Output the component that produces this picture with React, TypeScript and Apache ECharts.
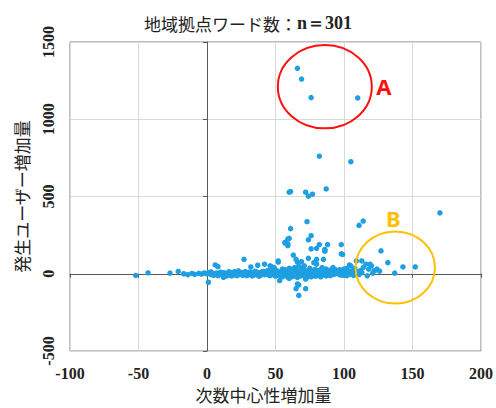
import React, { useEffect, useRef } from 'react';
import * as echarts from 'echarts';

const titleMain = '地域拠点ワード数：';
const titleN = 'n＝301';
const xAxisName = '次数中心性増加量';
const yAxisName = '発生ユーザー増加量';

const xMin = -100;
const xMax = 200;
const xStep = 50;
const yMin = -500;
const yMax = 1500;
const yStep = 500;

// high outliers
const upperPoints: number[][] = [
  [66, 1330], [69, 1260], [76, 1140], [110, 1138], [82, 761], [105, 725],
  [60, 528], [61, 532], [72, 528], [74, 502], [77, 515], [87, 549],
  [73, 337], [61, 292], [60, 229], [59, 224], [76, 246], [74, 220],
  [57, 203], [59, 193], [57, 199], [59, 182], [111, 313], [114, 341],
  [82, 189], [88, 189], [98, 189], [170, 394], [76, 161], [80, 165], [86, 150],
];

// dense band near zero
const bandPoints: number[][] = [
  [-52, -11], [-43, 6], [-27, 4], [-21, 15], [-17, 0], [-14, -6], [-11, 2], [-9, -4], [-6, 3], [-4, -2],
  [-2, 5], [0, -1], [1, -55], [2, 3], [3, -6], [4, 2], [5, -3], [6, 57], [8, 46], [7, 5],
  [9, -2], [10, 1], [11, -8], [12, -23], [13, 4], [14, -4], [15, 2], [16, 13], [17, -5], [18, 6],
  [19, -2], [20, 13], [21, -9], [22, 3], [23, 19], [24, -4], [25, 1], [26, 8], [27, 93], [27, -6],
  [28, 2], [29, -12], [30, 5], [31, -3], [32, 44], [32, 10], [33, -1], [34, -8], [35, 4], [36, 12],
  [37, 55], [37, -4], [38, 6], [39, -10], [40, 2], [41, 15], [42, 62], [42, -6], [43, 8], [44, -2],
  [45, 18], [46, 51], [46, -12], [47, 46], [47, 4], [48, -5], [49, 40], [49, 10], [50, -15], [51, 20],
  [52, 76], [52, 83], [52, 2], [53, -44], [53, -8], [54, 14], [55, 30], [55, -20], [56, 5], [57, 25],
  [57, -4], [58, -12], [59, 10], [60, 35], [60, -30], [61, 30], [61, 3], [62, 18], [62, -10], [63, 121],
  [63, -5], [64, 40], [64, 8], [65, 30], [65, -97], [65, 93], [66, -66], [66, 76], [66, 12], [67, -140],
  [67, -72], [67, 50], [68, -15], [68, 4], [69, 78], [69, 25], [70, 40], [70, -8], [71, 51], [71, 15],
  [72, -34], [72, -97], [72, 2], [73, 20], [74, 100], [74, -10], [75, 35], [75, 5], [76, -20], [77, 12],
  [78, 72], [78, -4], [79, 28], [80, 93], [80, 62], [80, 8], [81, -12], [82, 22], [83, 3], [84, 40],
  [85, 93], [85, -6], [86, 146], [86, 157], [86, 15], [87, 30], [88, -2], [89, 20], [90, 8], [91, 30],
  [92, 40], [92, -5], [93, 14], [94, 25], [95, 2], [96, 18], [97, -8], [98, 129], [99, 125], [98, 10],
  [100, 22], [101, 4], [102, 34], [103, -6], [104, 57], [104, 15], [105, 51], [106, 8], [107, 25], [108, 34],
  [109, 83], [110, 12], [111, -5], [112, 20], [113, 83], [113, 8], [114, 40], [116, 62], [117, -13], [118, 30],
  [119, 62], [120, 51], [121, 4], [122, 20], [124, 25], [126, 17], [127, 148], [132, 72], [137, 4], [143, 44],
  [152, 44], [124, 30],
  [1, 8], [3, 12], [5, -10], [8, -12], [10, 10], [12, 7], [14, -15], [16, -8], [18, -14], [20, -3],
  [22, -12], [24, 8], [26, -10], [28, 14], [30, -8], [31, 10], [33, -14], [35, 16], [36, -6], [38, -16],
  [40, 12], [42, 4], [44, 20], [45, -8], [48, 22], [50, 6], [51, -10], [54, -16], [56, 20], [58, 4],
  [59, -22], [60, 12], [62, -18], [63, 24], [64, -14], [66, -24], [68, 14], [70, 22], [71, -16], [73, -22],
  [74, 14], [76, 24], [77, -8], [79, -16], [81, 16], [83, -20], [84, 10], [87, -14], [89, 4], [90, -12],
  [93, -2], [95, 16], [97, 26], [99, -10], [100, 30], [102, -12], [105, -4], [107, -10],
];

// annotation ellipses in data units: [cx, cy, rx, ry]
const ellipseA = [86, 1211, 34.3, 270];
const ellipseB = [137.4, 40, 29, 233];
const labelA = 'A';
const labelB = 'B';

const serif = '"Liberation Serif", "Times New Roman", serif';
const cjk = '"Noto Sans CJK JP", "Noto Sans", sans-serif';

export default function App() {
  const ref = useRef<HTMLDivElement>(null);
  useEffect(() => {
    if (!ref.current) return;
    const chart = echarts.init(ref.current, null, { renderer: 'svg' });
    const option: any = {
      animation: false,
      backgroundColor: '#ffffff',
      title: {
        text: '{a|' + titleMain + '}{b|' + titleN + '}',
        left: 'center',
        top: 9,
        textStyle: {
          rich: {
            a: { fontFamily: cjk, fontSize: 17, color: '#222', fontWeight: 'normal' },
            b: { fontFamily: serif, fontSize: 18, color: '#222', fontWeight: 'bold' },
          },
        },
      },
      grid: {
        left: 70, right: 15, top: 42, bottom: 51,
        show: true, borderColor: '#808080', borderWidth: 1, backgroundColor: 'transparent',
      },
      xAxis: [
        {
          type: 'value', min: xMin, max: xMax, interval: xStep,
          axisLine: { show: false, onZero: false },
          axisTick: { show: false },
          splitLine: { show: true, lineStyle: { color: '#d9d9d9', width: 1 } },
          axisLabel: { fontFamily: serif, fontWeight: 'bold', fontSize: 16, color: '#222', margin: 14, formatter: (v: number) => String(v) },
          name: xAxisName,
          nameLocation: 'middle',
          nameGap: 35,
          nameTextStyle: { fontFamily: cjk, fontSize: 17, color: '#222', padding: [0, 24, 0, 0] },
        },
        {
          type: 'value', min: xMin, max: xMax, interval: xStep, position: 'bottom',
          axisLine: { show: true, onZero: true, lineStyle: { color: '#595959', width: 1 } },
          axisTick: { show: true, length: 4, lineStyle: { color: '#595959' } },
          splitLine: { show: false },
          axisLabel: { show: false },
        },
      ],
      yAxis: [
        {
          type: 'value', min: yMin, max: yMax, interval: yStep,
          axisLine: { show: false, onZero: false },
          axisTick: { show: false },
          splitLine: { show: true, lineStyle: { color: '#d9d9d9', width: 1 } },
          axisLabel: { fontFamily: serif, fontWeight: 'bold', fontSize: 16, color: '#222', rotate: 90, margin: 14, formatter: (v: number) => String(v) },
          name: yAxisName,
          nameLocation: 'middle',
          nameGap: 40,
          nameRotate: 90,
          nameTextStyle: { fontFamily: cjk, fontSize: 17, color: '#222' },
        },
        {
          type: 'value', min: yMin, max: yMax, interval: yStep, position: 'left',
          axisLine: { show: true, onZero: true, lineStyle: { color: '#595959', width: 1 } },
          axisTick: { show: true, length: 4, lineStyle: { color: '#595959' } },
          splitLine: { show: false },
          axisLabel: { show: false },
        },
      ],
      series: [
        {
          type: 'scatter',
          xAxisIndex: 0, yAxisIndex: 0,
          symbolSize: 5.5,
          itemStyle: { color: '#1e9fe2', opacity: 1 },
          data: [...bandPoints, ...upperPoints],
        },
      ],
    };
    chart.setOption(option);

    const mk = (e: number[], color: string, label: string, lx: number, ly: number) => {
      const c = chart.convertToPixel({ gridIndex: 0 }, [e[0], e[1]]) as number[];
      const p = chart.convertToPixel({ gridIndex: 0 }, [e[0] + e[2], e[1] - e[3]]) as number[];
      const rx = Math.abs(p[0] - c[0]);
      const ry = Math.abs(p[1] - c[1]);
      return [
        { type: 'ellipse', shape: { cx: c[0], cy: c[1], rx, ry }, style: { fill: 'none', stroke: color, lineWidth: 2 }, z: 10 },
        {
          type: 'text', x: c[0] + lx, y: c[1] + ly,
          style: { text: label, fill: color, fontSize: 22, fontWeight: 'bold', fontFamily: '"Noto Sans", sans-serif', align: 'center', verticalAlign: 'middle' },
          z: 10,
        },
      ];
    };
    chart.setOption({
      graphic: [
        ...mk(ellipseA, '#ff1010', labelA, 59, -1),
        ...mk(ellipseB, '#ffc000', labelB, -2, -50),
      ],
    });
    return () => chart.dispose();
  }, []);
  return <div ref={ref} style={{ position: 'absolute', left: 0, top: 0, width: 496, height: 408 }} />;
}
